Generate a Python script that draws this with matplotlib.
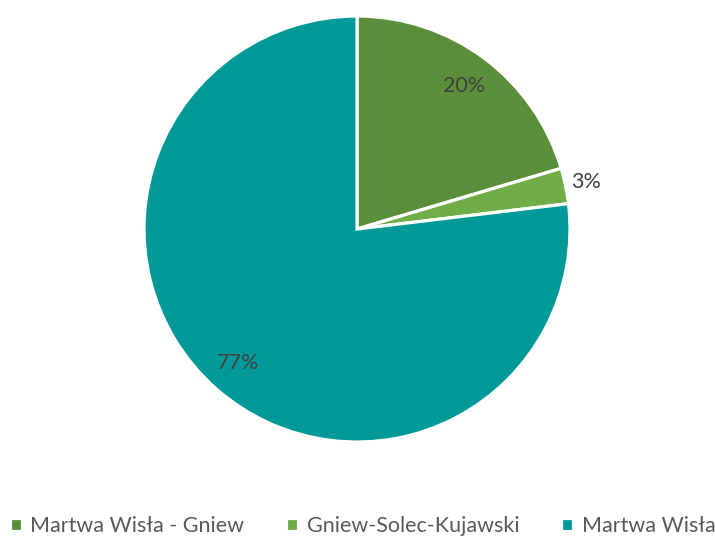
import matplotlib
matplotlib.use("Agg")
import matplotlib.pyplot as plt

plt.rcParams['font.family'] = ['Lato', 'DejaVu Sans']

categories = ["Martwa Wisła - Gniew", "Gniew-Solec-Kujawski", "Martwa Wisła"]
shares = [20.4, 2.7, 76.9]
colors = ["#5B8E3B", "#70AD47", "#009999"]

fig = plt.figure(figsize=(7.15, 5.38), dpi=100)
ax = fig.add_axes([0.2014, 0.1784, 0.5958, 0.7918])

wedges, _, autotexts = ax.pie(
    shares,
    colors=colors,
    startangle=90,
    counterclock=False,
    autopct='%.0f%%',
    pctdistance=0.84,
    wedgeprops=dict(edgecolor='white', linewidth=2.3),
    textprops=dict(color='#404040', fontsize=15.5),
    radius=1.0,
)

# small slice label sits just outside the pie
small = autotexts[1]
x, y = small.get_position()
small.set_position((x / 0.84 * 1.1, y / 0.84 * 1.1))

ax.set_xlim(-1, 1)
ax.set_ylim(-1, 1)
ax.set_aspect('equal')

leg = fig.legend(
    wedges, categories,
    loc='center', bbox_to_anchor=(0.507, 0.022),
    ncol=3, frameon=False,
    handlelength=0.55, handleheight=0.55, handletextpad=0.4,
    columnspacing=1.95, fontsize=15.5,
    labelcolor='#595959',
)

fig.savefig("out.png", dpi=100)
